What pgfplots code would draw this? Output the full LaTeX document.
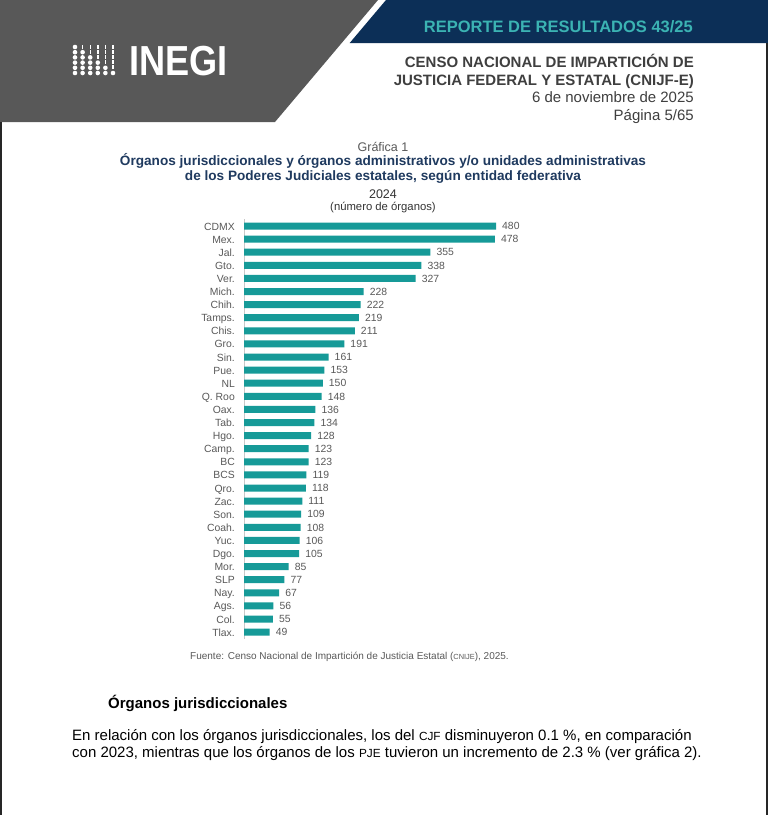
\documentclass[border=0pt]{standalone}
\usepackage{fontspec}
\setmainfont{Liberation Sans}
\usepackage{pgfplots}
\pgfplotsset{compat=1.18}
\usepackage{pgfplotstable}
\usepackage{graphicx}

\definecolor{headgray}{HTML}{585858}
\definecolor{navy}{HTML}{0C2F57}
\definecolor{tealtxt}{HTML}{3BB3B3}
\definecolor{hdrtxt}{HTML}{3F3F3F}
\definecolor{titlenavy}{HTML}{1F3A5F}
\definecolor{labgray}{HTML}{595959}
\definecolor{barteal}{HTML}{169A98}
\definecolor{axisgray}{HTML}{C8C8C8}

\pgfplotstableread{
i v
0 480
1 478
2 355
3 338
4 327
5 228
6 222
7 219
8 211
9 191
10 161
11 153
12 150
13 148
14 136
15 134
16 128
17 123
18 123
19 119
20 118
21 111
22 109
23 108
24 106
25 105
26 85
27 77
28 67
29 56
30 55
31 49
}\datatable

\begin{document}
\begin{tikzpicture}
\path[use as bounding box, fill=white] (0bp,0bp) rectangle (768bp,-815bp);
\begin{scope}[x=1bp,y=-1bp]
  % header shapes
  \fill[headgray] (0,0) -- (378,0) -- (275,122) -- (0,122) -- cycle;
  \fill[navy] (386,0) -- (768,0) -- (768,43) -- (349.7,43) -- cycle;
  % page borders
  \fill[black!85] (0,122) rectangle (2,815);
  \fill[black!85] (765.5,43) rectangle (768,815);
  % logo dots
  \foreach \k in {0,...,5}{
    \pgfmathsetmacro{\xx}{75+7.6*\k}
    \foreach \j in {0,...,5}{
      \ifnum\j<\k
        \fill[white] (\xx-0.7,44.5+5.2*\j) rectangle (\xx+0.7,48.5+5.2*\j);
      \else
        \fill[white] (\xx,47+5.2*\j) circle (2.3);
      \fi
    }
  }
  \node[anchor=base west, inner sep=0, text=white,
        font=\fontsize{42bp}{42bp}\selectfont\bfseries] at (129,75.5) {\scalebox{0.86}[1]{INEGI}};
  % header texts
  \node[anchor=base east, inner sep=0, text=tealtxt,
        font=\fontsize{16.5bp}{18bp}\selectfont\bfseries] at (693,32.3) {REPORTE DE RESULTADOS 43/25};
  \node[anchor=base east, inner sep=0, text=hdrtxt,
        font=\fontsize{15bp}{17bp}\selectfont\bfseries] at (694,67.5) {CENSO NACIONAL DE IMPARTICIÓN DE};
  \node[anchor=base east, inner sep=0, text=hdrtxt,
        font=\fontsize{15bp}{17bp}\selectfont\bfseries] at (694,85) {JUSTICIA FEDERAL Y ESTATAL (CNIJF-E)};
  \node[anchor=base east, inner sep=0, text=hdrtxt,
        font=\fontsize{15bp}{17bp}\selectfont] at (694,102.5) {6 de noviembre de 2025};
  \node[anchor=base east, inner sep=0, text=hdrtxt,
        font=\fontsize{15bp}{17bp}\selectfont] at (694,120) {Página 5/65};
  % chart titles
  \node[anchor=base, inner sep=0, text=labgray,
        font=\fontsize{12.5bp}{14bp}\selectfont] at (383,151.5) {Gráfica 1};
  \node[anchor=base, inner sep=0, text=titlenavy,
        font=\fontsize{13.6bp}{15bp}\selectfont\bfseries] at (383,165) {Órganos jurisdiccionales y órganos administrativos y/o unidades administrativas};
  \node[anchor=base, inner sep=0, text=titlenavy,
        font=\fontsize{13.6bp}{15bp}\selectfont\bfseries] at (383,180.5) {de los Poderes Judiciales estatales, según entidad federativa};
  \node[anchor=base, inner sep=0, text=black!80,
        font=\fontsize{12.5bp}{14bp}\selectfont] at (383,198) {2024};
  \node[anchor=base, inner sep=0, text=black!80,
        font=\fontsize{11.3bp}{13bp}\selectfont] at (383,210) {(número de órganos)};
  % source and text
  \node[anchor=base west, inner sep=0, text=labgray,
        font=\fontsize{10bp}{11bp}\selectfont] at (190,659) {Fuente: Censo Nacional de Impartición de Justicia Estatal ({\fontsize{7.4bp}{8bp}\selectfont CNIJE}), 2025.};
  \node[anchor=base west, inner sep=0, text=black,
        font=\fontsize{15bp}{17bp}\selectfont\bfseries] at (108,708) {Órganos jurisdiccionales};
  \node[anchor=base west, inner sep=0, text=black,
        font=\fontsize{15bp}{17bp}\selectfont] at (72,740) {En relación con los órganos jurisdiccionales, los del {\fontsize{11.8bp}{13bp}\selectfont CJF} disminuyeron 0.1~\%, en comparación};
  \node[anchor=base west, inner sep=0, text=black,
        font=\fontsize{15bp}{17bp}\selectfont] at (72,757) {con 2023, mientras que los órganos de los {\fontsize{11.8bp}{13bp}\selectfont PJE} tuvieron un incremento de 2.3~\% (ver gráfica 2).};
\end{scope}

\begin{axis}[
  at={(244bp,-219.45bp)}, anchor=north west,
  width=252bp, height=419.2bp, scale only axis,
  xbar, bar width=7bp,
  xmin=0, xmax=480,
  ymin=-0.5, ymax=31.5, y dir=reverse,
  enlargelimits=false,
  ytick={0,...,31},
  yticklabels={CDMX,Mex.,Jal.,Gto.,Ver.,Mich.,Chih.,Tamps.,Chis.,Gro.,Sin.,Pue.,NL,Q. Roo,Oax.,Tab.,Hgo.,Camp.,BC,BCS,Qro.,Zac.,Son.,Coah.,Yuc.,Dgo.,Mor.,SLP,Nay.,Ags.,Col.,Tlax.},
  hide x axis,
  axis y line*=left,
  axis line style={-},
  y axis line style={draw=axisgray, line width=0.8bp},
  major tick length=0pt,
  yticklabel style={font=\fontsize{10.4bp}{11bp}\selectfont, text=labgray, inner sep=0pt, xshift=-9bp, text height=7.4bp, text depth=0pt, yshift=-0.3bp},
  point meta=x,
  /pgf/number format/assume math mode=true,
  nodes near coords={\pgfmathprintnumber{\pgfplotspointmeta}},
  nodes near coords style={font=\fontsize{10.4bp}{11bp}\selectfont, text=labgray, anchor=west, inner sep=0pt, xshift=6bp, text height=7.4bp, text depth=0pt},
  clip=false,
]
\addplot[fill=barteal, draw=none] table[x=v, y=i] {\datatable};
\end{axis}
\end{tikzpicture}
\end{document}
